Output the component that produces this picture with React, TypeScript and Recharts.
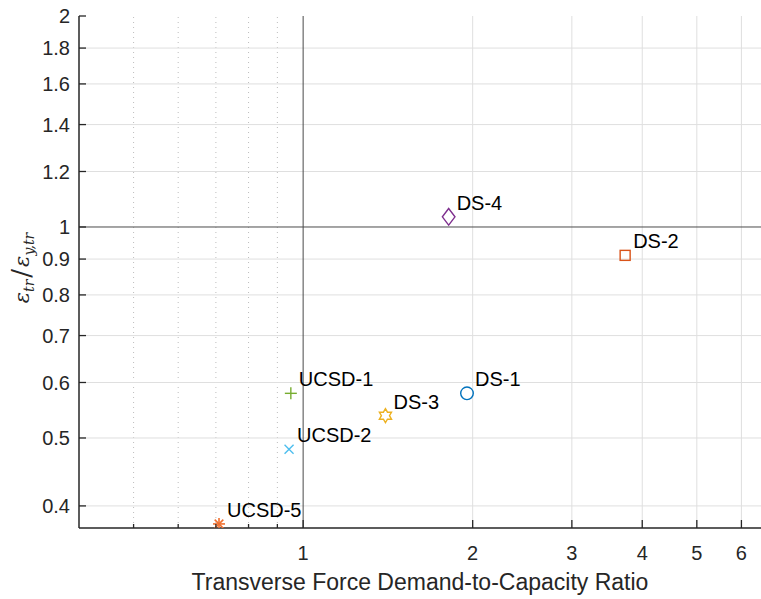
import React from 'react';
import { ScatterChart, Scatter, XAxis, YAxis, ReferenceLine } from 'recharts';

const specimens = ['DS-1', 'DS-2', 'DS-3', 'DS-4', 'UCSD-1', 'UCSD-2', 'UCSD-5'];
const demandRatio = [1.954, 3.73, 1.4, 1.813, 0.951, 0.944, 0.709];
const strainRatio = [0.579, 0.911, 0.538, 1.034, 0.579, 0.482, 0.377];
const markerKinds = ['o', 's', 'h', 'd', '+', 'x', '*'];
const markerColors = ['#0072BD', '#D95319', '#EDB120', '#7E2F8E', '#77AC30', '#4DBEEE', '#F07030'];

const xMinorTicks = [0.5, 0.6, 0.7, 0.8, 0.9];
const xMajorTicks = [1, 2, 3, 4, 5, 6];
const xTicks = [...xMinorTicks, ...xMajorTicks];
const yTicks = [0.4, 0.5, 0.6, 0.7, 0.8, 0.9, 1, 1.2, 1.4, 1.6, 1.8, 2];

const xDomain = [0.4, 6.5];
const yDomain = [0.372, 2];

const AX = '#262626';
const GRID = '#dfdfdf';
const FONT = '"Liberation Sans", Arial, Helvetica, sans-serif';

function Marker({ cx, cy, kind, color }: any) {
  const sw = 1.4;
  switch (kind) {
    case 'o':
      return <circle cx={cx} cy={cy} r={6.3} fill="none" stroke={color} strokeWidth={sw} />;
    case 's':
      return <rect x={cx - 5} y={cy - 5} width={10} height={10} fill="none" stroke={color} strokeWidth={sw} />;
    case 'd':
      return (
        <polygon
          points={`${cx},${cy - 8.3} ${cx + 6.3},${cy} ${cx},${cy + 8.3} ${cx - 6.3},${cy}`}
          fill="none"
          stroke={color}
          strokeWidth={sw}
        />
      );
    case 'h': {
      const R = 7;
      const r = R / Math.sqrt(3);
      const pts: string[] = [];
      for (let i = 0; i < 12; i++) {
        const a = (Math.PI / 6) * i - Math.PI / 2;
        const rad = i % 2 === 0 ? R : r;
        pts.push(`${cx + rad * Math.cos(a)},${cy + rad * Math.sin(a)}`);
      }
      return <polygon points={pts.join(' ')} fill="none" stroke={color} strokeWidth={sw} />;
    }
    case '+':
      return (
        <g stroke={color} strokeWidth={sw}>
          <line x1={cx - 6} x2={cx + 6} y1={cy} y2={cy} />
          <line x1={cx} x2={cx} y1={cy - 6} y2={cy + 6} />
        </g>
      );
    case 'x':
      return (
        <g stroke={color} strokeWidth={sw}>
          <line x1={cx - 4.5} x2={cx + 4.5} y1={cy - 4.5} y2={cy + 4.5} />
          <line x1={cx - 4.5} x2={cx + 4.5} y1={cy + 4.5} y2={cy - 4.5} />
        </g>
      );
    default:
      return (
        <g stroke={color} strokeWidth={1.6}>
          <line x1={cx - 6} x2={cx + 6} y1={cy} y2={cy} />
          <line x1={cx} x2={cx} y1={cy - 6} y2={cy + 6} />
          <line x1={cx - 4.3} x2={cx + 4.3} y1={cy - 4.3} y2={cy + 4.3} />
          <line x1={cx - 4.3} x2={cx + 4.3} y1={cy + 4.3} y2={cy - 4.3} />
        </g>
      );
  }
}

const BottomTick = (props: any) => {
  const { x, y, payload } = props;
  const major = payload.value >= 1;
  return (
    <g>
      <line x1={x} x2={x} y1={y} y2={y - (major ? 8 : 4)} stroke={AX} strokeWidth={1.3} />
      {major && (
        <text x={x} y={y + 32} textAnchor="middle" fill={AX} fontSize={20} fontFamily={FONT}>
          {payload.value}
        </text>
      )}
    </g>
  );
};

const TopTick = (props: any) => {
  const { x, y, payload } = props;
  const major = payload.value >= 1;
  return <line x1={x} x2={x} y1={y} y2={y + (major ? 8 : 4)} stroke={AX} strokeWidth={1.3} />;
};

const LeftTick = (props: any) => {
  const { x, y, payload } = props;
  return (
    <g>
      <line x1={x} x2={x + 7} y1={y} y2={y} stroke={AX} strokeWidth={1.3} />
      <text x={x - 9} y={y} dy="0.36em" textAnchor="end" fill={AX} fontSize={20} fontFamily={FONT}>
        {payload.value}
      </text>
    </g>
  );
};

const RightTick = (props: any) => {
  const { x, y } = props;
  return <line x1={x} x2={x - 7} y1={y} y2={y} stroke={AX} strokeWidth={1.3} />;
};

export default function App() {
  return (
    <div style={{ position: 'absolute', left: 0, top: 0, width: 761, height: 599, background: '#fff' }}>
      <ScatterChart width={761} height={599} margin={{ top: 16, right: 0, bottom: 0, left: 0 }}>
        <XAxis
          xAxisId="b"
          type="number"
          dataKey="x"
          scale="log"
          domain={xDomain}
          allowDataOverflow
          ticks={xTicks}
          interval={0}
          height={71}
          tickSize={0}
          tickMargin={0}
          tick={<BottomTick />}
          axisLine={{ stroke: AX, strokeWidth: 1.5 }}
        />
        <XAxis
          xAxisId="t"
          orientation="top"
          type="number"
          dataKey="x"
          scale="log"
          domain={xDomain}
          allowDataOverflow
          ticks={xTicks}
          interval={0}
          height={0}
          tickSize={0}
          tickMargin={0}
          tick={<TopTick />}
          axisLine={{ stroke: AX, strokeWidth: 1.5 }}
        />
        <YAxis
          yAxisId="l"
          type="number"
          dataKey="y"
          scale="log"
          domain={yDomain}
          allowDataOverflow
          ticks={yTicks}
          interval={0}
          width={79}
          tickSize={0}
          tickMargin={0}
          tick={<LeftTick />}
          axisLine={{ stroke: AX, strokeWidth: 1.5 }}
        />
        <YAxis
          yAxisId="r"
          orientation="right"
          type="number"
          dataKey="y"
          scale="log"
          domain={yDomain}
          allowDataOverflow
          ticks={yTicks}
          interval={0}
          width={0}
          tickSize={0}
          tickMargin={0}
          tick={<RightTick />}
          axisLine={false}
        />
        {xMinorTicks.map((v) => (
          <ReferenceLine key={`xm-${v}`} xAxisId="b" yAxisId="l" x={v} stroke="#bdbdbd" strokeDasharray="1 4" strokeWidth={1} />
        ))}
        {xMajorTicks.filter((v) => v !== 1).map((v) => (
          <ReferenceLine key={`xg-${v}`} xAxisId="b" yAxisId="l" x={v} stroke={GRID} strokeWidth={1} />
        ))}
        {yTicks.filter((v) => v !== 1 && v !== 2).map((v) => (
          <ReferenceLine key={`yg-${v}`} xAxisId="b" yAxisId="l" y={v} stroke={GRID} strokeWidth={1} />
        ))}
        <ReferenceLine xAxisId="b" yAxisId="l" x={1} stroke="#4a4a4a" strokeWidth={1} />
        <ReferenceLine xAxisId="b" yAxisId="l" y={1} stroke="#4a4a4a" strokeWidth={1} />
        {specimens.map((name, i) => (
          <Scatter
            key={name}
            xAxisId="b"
            yAxisId="l"
            data={[{ x: demandRatio[i], y: strainRatio[i], name }]}
            isAnimationActive={false}
            shape={(p: any) => (
              <g>
                <Marker cx={p.cx} cy={p.cy} kind={markerKinds[i]} color={markerColors[i]} />
                <text x={p.cx + 8} y={p.cy - 7} fill="#000" fontSize={20} fontFamily={FONT}>
                  {name}
                </text>
              </g>
            )}
          />
        ))}
      </ScatterChart>
      <svg width={761} height={599} style={{ position: 'absolute', left: 0, top: 0, pointerEvents: 'none' }}>
        <text x={420} y={590} textAnchor="middle" fill={AX} fontSize={23} fontFamily={FONT}>
          Transverse Force Demand-to-Capacity Ratio
        </text>
        <text
          transform="translate(29, 268) rotate(-90)"
          textAnchor="middle"
          fill={AX}
          fontFamily='"DejaVu Serif", "Liberation Serif", serif'
          fontStyle="italic"
        >
          <tspan fontSize={21}>ε</tspan>
          <tspan fontSize={14} dy={5}>tr</tspan>
          <tspan fontSize={26} dy={-4} fontStyle="normal" dx={2}>/</tspan>
          <tspan fontSize={21} dy={-1} dx={2}>ε</tspan>
          <tspan fontSize={14} dy={5}>y,tr</tspan>
        </text>
      </svg>
    </div>
  );
}
